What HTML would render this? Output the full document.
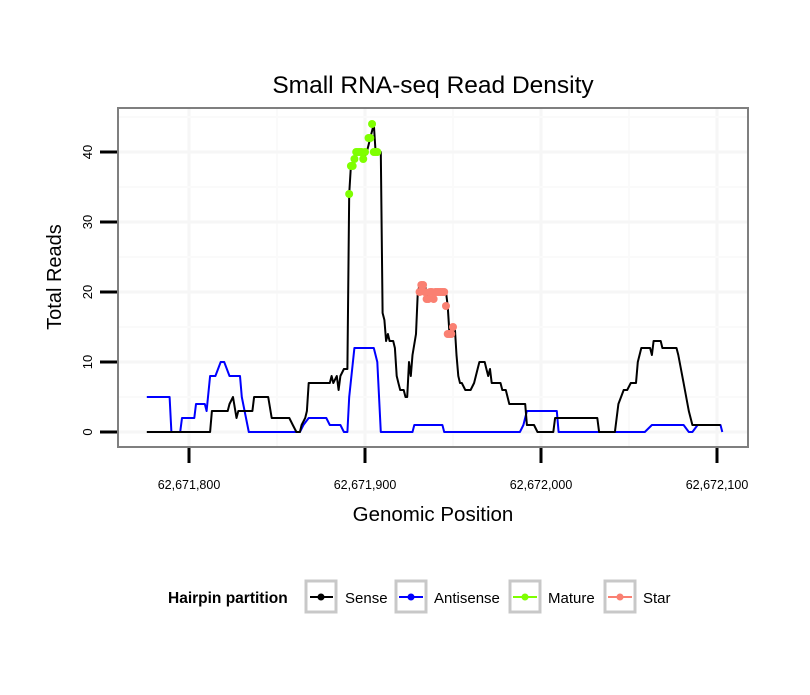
<!DOCTYPE html>
<html><head><meta charset="utf-8"><style>
body{margin:0;background:#fff;width:810px;height:690px;overflow:hidden}
svg{font-family:"Liberation Sans",sans-serif}
</style></head><body>
<svg id="chart" width="810" height="690" xmlns="http://www.w3.org/2000/svg">
<text x="433" y="93" font-size="24.5" text-anchor="middle">Small RNA-seq Read Density</text>
<rect x="118" y="108" width="630" height="339" fill="#fff"/>
<g id="grid"></g>
<g id="series"></g>
<rect x="118" y="108" width="630" height="339" fill="none" stroke="#7f7f7f" stroke-width="2"/>
<g id="axes"></g>
<text x="433" y="521" font-size="20.5" text-anchor="middle">Genomic Position</text>
<text transform="translate(61,277) rotate(-90)" font-size="20" text-anchor="middle">Total Reads</text>
<g font-size="15">
<text x="168" y="603" font-weight="bold" font-size="15.5">Hairpin partition</text>
<g><rect x="306" y="581" width="30" height="31" fill="#fff" stroke="#c8c8c8" stroke-width="3"/><line x1="310" y1="597" x2="333" y2="597" stroke="#000" stroke-width="2"/><circle cx="321" cy="597" r="3.5" fill="#000"/><text x="345" y="603">Sense</text></g>
<g><rect x="396" y="581" width="30" height="31" fill="#fff" stroke="#c8c8c8" stroke-width="3"/><line x1="399" y1="597" x2="423" y2="597" stroke="#00f" stroke-width="2"/><circle cx="411" cy="597" r="3.5" fill="#00f"/><text x="434" y="603">Antisense</text></g>
<g><rect x="510" y="581" width="30" height="31" fill="#fff" stroke="#c8c8c8" stroke-width="3"/><line x1="513" y1="597" x2="537" y2="597" stroke="#7fff00" stroke-width="2"/><circle cx="525" cy="597" r="3.5" fill="#7fff00"/><text x="548" y="603">Mature</text></g>
<g><rect x="605" y="581" width="30" height="31" fill="#fff" stroke="#c8c8c8" stroke-width="3"/><line x1="608" y1="597" x2="632" y2="597" stroke="#fa8072" stroke-width="2"/><circle cx="620" cy="597" r="3.5" fill="#fa8072"/><text x="643" y="603">Star</text></g>
</g>
</svg>
<script>
const BASE = 62671800;
const xTicks = [62671800, 62671900, 62672000, 62672100];
const xTickLabels = ["62,671,800", "62,671,900", "62,672,000", "62,672,100"];
const yTicks = [0, 10, 20, 30, 40];
const senseOffsets = [-24,12,13,22,23,25,27,28,36,37,45,47,57,59,61,63,64,66,67,68,80,81,82,84,85,86,88,90,91,92,94,96,98,99,101,103,105,106,109,110,111,112,113,114,116,117,118,119,120,122,123,124,125,126,127,129,130,131,134,135,136,139,140,146,147,148,150,151,152,153,154,155,157,160,162,164,165,168,169,170,171,172,177,178,180,182,191,192,196,198,207,208,232,233,242,244,247,249,251,254,255,257,262,263,264,268,269,277,278,281,284,286,302];
const senseValues = [0,0,3,3,4,5,2,3,3,5,5,2,2,1,0,0,1,2,3,7,7,8,7,8,6,8,9,9,34,38,39,40,40,39,40,42,44,40,40,17,16,13,14,13,13,12,8,7,6,6,5,5,10,8,11,14,20,21,21,20,19,19,20,20,18,14,14,15,11,8,7,7,6,6,7,9,10,10,9,8,9,7,7,6,6,4,4,1,1,0,0,2,2,0,0,4,6,6,7,7,10,12,12,11,13,13,12,12,11,7,3,1,1];
const antiOffsets = [-24,-11,-10,-5,-4,3,4,9,10,12,15,18,20,23,29,30,34,63,65,68,78,80,86,88,90,91,94,105,107,109,127,128,144,145,188,190,192,209,210,259,263,281,284,286,289,302,303];
const antiValues = [5,5,0,0,2,2,4,4,3,8,8,10,10,8,8,5,0,0,1,2,2,1,1,0,0,5,12,12,10,0,0,1,1,0,0,1,3,3,0,0,1,1,0,0,1,1,0];
const matureOffsets = [91,92,93,94,95,96,97,98,99,100,102,103,104,105,106,107];
const matureValues = [34,38,38,39,40,40,40,40,39,40,42,42,44,40,40,40];
const starOffsets = [131,132,133,134,135,136,137,138,139,140,141,142,143,144,145,146,147,148,149,150];
const starValues = [20,21,21,20,19,19,20,20,19,20,20,20,20,20,20,18,14,14,14,15];

const NS = "http://www.w3.org/2000/svg";
const xScale = p => 189 + (p - BASE) * 1.76;
const yScale = v => 432 - v * 7;
function mk(tag, attrs, parent){const e=document.createElementNS(NS,tag);for(const k in attrs)e.setAttribute(k,attrs[k]);parent.appendChild(e);return e;}
const grid=document.getElementById('grid'), axes=document.getElementById('axes'), series=document.getElementById('series');
for(let i=-1;i<xTicks.length;i++){
  const p=xTicks[0]+i*100;
  if(i>=0){const g=mk('line',{x1:xScale(p),x2:xScale(p),y1:108,y2:447,stroke:'#f6f6f6','stroke-width':3},grid);}
  const m=p+50; if(xScale(m)>118&&xScale(m)<748){const g=mk('line',{x1:xScale(m),x2:xScale(m),y1:108,y2:447,stroke:'#fafafa','stroke-width':2},grid);}
}
for(let v=0;v<=45;v+=5){
  const major=v%10===0;
  const g=mk('line',{x1:118,x2:748,y1:yScale(v),y2:yScale(v),stroke:major?'#f6f6f6':'#fafafa','stroke-width':major?3:2},grid);
  
  
}
xTicks.forEach((p,i)=>{
  const t=mk('line',{x1:xScale(p),x2:xScale(p),y1:448,y2:463,stroke:'#000','stroke-width':3},axes);
  
  
  const l=mk('text',{x:xScale(p),y:489,'font-size':12.5,'text-anchor':'middle'},axes);l.textContent=xTickLabels[i];
  
  
});
yTicks.forEach(v=>{
  const t=mk('line',{x1:100,x2:117,y1:yScale(v),y2:yScale(v),stroke:'#000','stroke-width':3},axes);
  
  
  const l=mk('text',{transform:`translate(92,${yScale(v)}) rotate(-90)`,'font-size':13,'text-anchor':'middle'},axes);l.textContent=v;
  
  
});
function line(offs,vals,color,name){
  const d=offs.map((o,i)=>(i?'L':'M')+xScale(BASE+o).toFixed(1)+','+yScale(vals[i]).toFixed(1)).join('');
  const e=mk('path',{d:d,fill:'none',stroke:color,'stroke-width':2,'stroke-linejoin':'round'},series);
  
  
}
function pts(offs,vals,color,name){
  offs.forEach((o,i)=>{
    const c=mk('circle',{cx:xScale(BASE+o),cy:yScale(vals[i]),r:4,fill:color},series);
    
    
  });
}
line(antiOffsets,antiValues,'#0000ff','antisense-line');
line(senseOffsets,senseValues,'#000000','sense-line');
pts(matureOffsets,matureValues,'#7fff00','mature-point');
pts(starOffsets,starValues,'#fa8072','star-point');
</script>
</body></html>
